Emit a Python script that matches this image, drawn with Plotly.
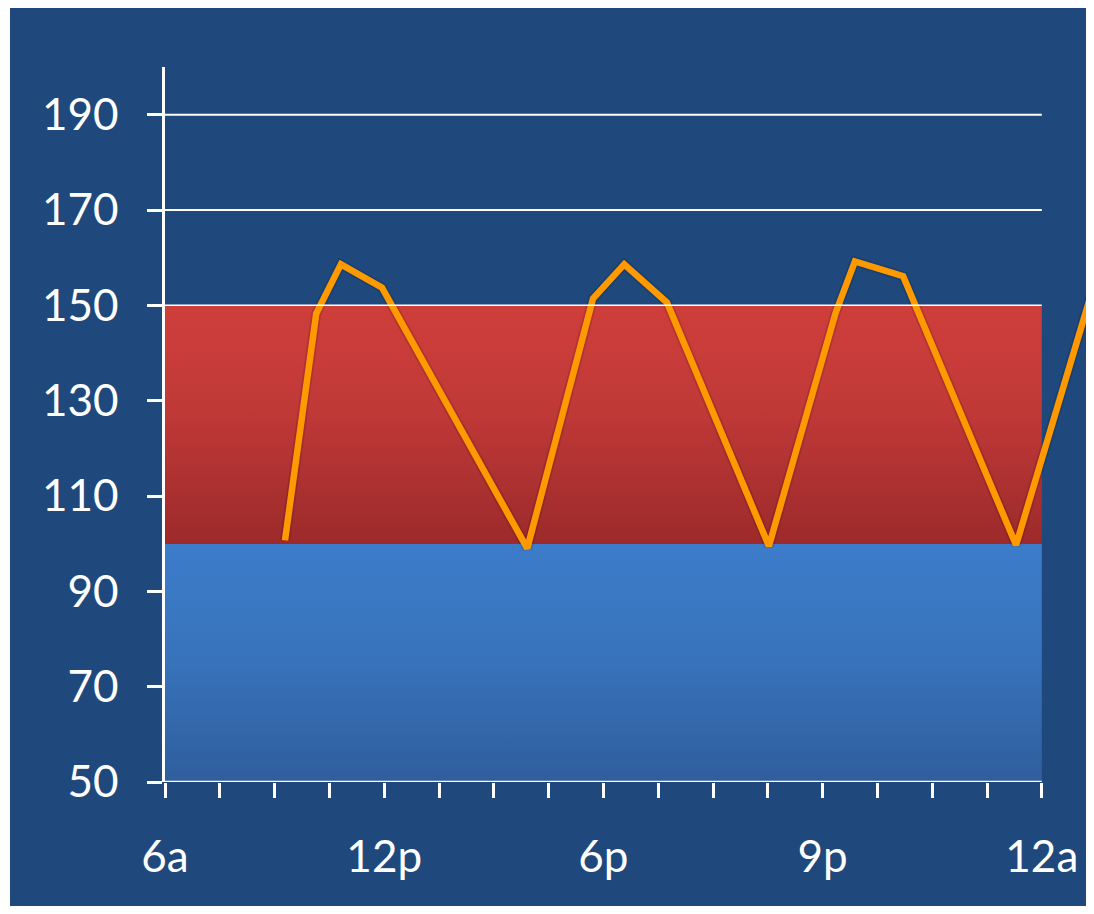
import plotly.graph_objects as go

# ---- data ----
x_pos = [2.19, 2.76, 3.21, 3.96, 6.61, 7.81, 8.38, 9.16, 11.02, 12.24, 12.59, 13.47, 15.53, 17.1]
readings = [100.7, 148.3, 158.6, 153.7, 99.0, 151.4, 158.6, 150.6, 99.5, 148.5, 159.2, 156.1, 99.7, 160.0]

x_label_pos = [0, 4, 8, 12, 16]
x_labels = ["6a", "12p", "6p", "9p", "12a"]
y_ticks = [50, 70, 90, 110, 130, 150, 170, 190]
grid_vals = [150, 170, 190]

low_band = [50, 100]
high_band = [100, 150]
band_x = [0, 16]

BG = "#1F497D"
WHITE = "white"

W, H = 1078, 898
ML, MT, MB = 157, 59, 124
PW = W - ML
PH = H - MT - MB

fig = go.Figure()

# low (blue) band
fig.add_trace(go.Scatter(
    x=[band_x[0], band_x[1], band_x[1], band_x[0], band_x[0]],
    y=[low_band[0], low_band[0], low_band[1], low_band[1], low_band[0]],
    fill="toself", mode="none", hoverinfo="skip", showlegend=False,
    fillgradient=dict(type="vertical", start=low_band[0], stop=low_band[1],
                      colorscale=[[0, "#2f5e9d"], [0.55, "#3874bd"], [1, "#3d7cca"]]),
))
# high (red) band
fig.add_trace(go.Scatter(
    x=[band_x[0], band_x[1], band_x[1], band_x[0], band_x[0]],
    y=[high_band[0], high_band[0], high_band[1], high_band[1], high_band[0]],
    fill="toself", mode="none", hoverinfo="skip", showlegend=False,
    fillgradient=dict(type="vertical", start=high_band[0], stop=high_band[1],
                      colorscale=[[0, "#9d2a2b"], [0.6, "#c23a38"], [1, "#ce3e3b"]]),
))

# gridlines
for g in grid_vals:
    fig.add_shape(type="line", xref="x", yref="y", x0=band_x[0], x1=band_x[1], y0=g, y1=g,
                  line=dict(color=WHITE, width=2 if g != 150 else 1.5), layer="above")

# x axis line
fig.add_shape(type="line", xref="x", yref="y", x0=band_x[0], x1=band_x[1], y0=50, y1=50,
              line=dict(color=WHITE, width=2.5), layer="above")

# shadow + line
fig.add_trace(go.Scatter(x=x_pos, y=readings, mode="lines", hoverinfo="skip", showlegend=False,
                         line=dict(color="rgba(0,0,0,0.13)", width=10)))
fig.add_trace(go.Scatter(x=x_pos, y=readings, mode="lines", showlegend=False,
                         line=dict(color="#FF9900", width=6.5)))

# thin white strip on the left edge
fig.add_shape(type="rect", xref="paper", yref="paper",
              x0=-ML / PW, x1=(2 - ML) / PW, y0=-MB / PH - 0.01, y1=(H - MB) / PH + 0.01,
              fillcolor=WHITE, line=dict(width=0), layer="below")

fig.update_layout(
    width=W, height=H,
    margin=dict(l=ML, r=0, t=MT, b=MB),
    paper_bgcolor=BG, plot_bgcolor=BG,
    font=dict(family="Lato", color=WHITE, size=44),
    xaxis=dict(range=[0, PW / 54.8], showgrid=False, zeroline=False, showline=False,
               tickmode="array", tickvals=x_label_pos, ticktext=x_labels, ticks="",
               ticklabelstandoff=45, tickfont=dict(size=44, color=WHITE),
               minor=dict(tickmode="linear", tick0=0, dtick=1, ticks="outside",
                          ticklen=15, tickwidth=2.5, tickcolor=WHITE, showgrid=False)),
    yaxis=dict(range=[50, 200], showgrid=False, zeroline=False, showline=True,
               linecolor=WHITE, linewidth=2.5,
               tickmode="array", tickvals=y_ticks, ticks="outside", ticklen=15,
               tickwidth=2.5, tickcolor=WHITE, ticklabelstandoff=20,
               tickfont=dict(size=44, color=WHITE)),
)

fig.write_html("out.html")
